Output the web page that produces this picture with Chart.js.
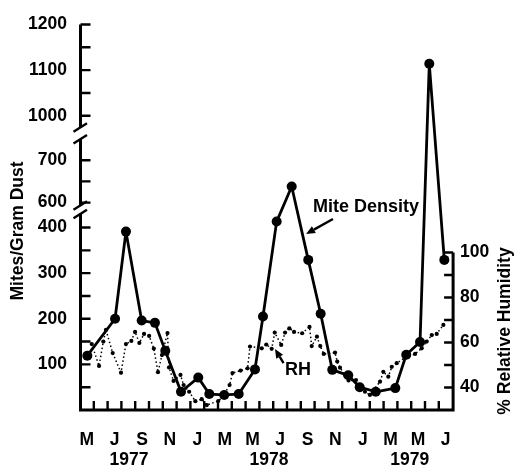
<!DOCTYPE html>
<html>
<head>
<meta charset="utf-8">
<script src="https://cdn.jsdelivr.net/npm/chart.js@4/dist/chart.umd.min.js"></script>
<style>
  html, body { margin: 0; padding: 0; background: #fff; }
  canvas { display: block; }
</style>
</head>
<body>
<canvas id="chart" width="515" height="466"></canvas>
<script>
// ---- data: months are counted from 1 May 1977 ----
const monthLetters = ['M', 'J', 'S', 'N', 'J', 'M', 'M', 'J', 'S', 'N', 'J', 'M', 'M', 'J'];
const yearNames = ['1977', '1978', '1979'];
const yearCentres = [3.55, 13.7, 23.9];

const densityTicks = [50, 100, 150, 200, 250, 300, 350, 400, 600, 650, 700, 1000, 1050, 1100, 1150, 1200];
const densityTickLabels = [100, 200, 300, 400, 600, 700, 1000, 1100, 1200];
const humidityTicks = [40, 50, 60, 70, 80, 90, 100];
const humidityTickLabels = [40, 60, 80, 100];

// mites per gram of dust
const miteMonths = [0.53, 2.54, 3.33, 4.47, 5.43, 6.18, 7.32, 8.57, 9.37, 10.45, 11.5, 12.68, 13.26,
  14.25, 15.34, 16.54, 17.44, 18.28, 19.44, 20.27, 21.43, 22.85, 23.64, 24.64, 25.31, 26.4];
const miteDensity = [119, 200, 391, 196, 191, 130, 40, 71, 35, 33, 35, 89, 205,
  413, 638, 329, 211, 88, 76, 50, 40, 48, 121, 149, 1114, 329];

// % relative humidity
const rhMonths = [0.85, 1.38, 1.69, 1.88, 2.37, 2.97, 3.33, 3.72, 3.99, 4.30, 4.64, 5.01, 5.35, 5.65,
  5.94, 6.34, 6.45, 6.78, 7.28, 7.51, 7.91, 8.36, 8.82, 9.19, 10.02, 10.36, 10.84, 11.05, 11.64,
  12.14, 12.32, 13.17, 13.5, 13.89, 14.11, 14.58, 14.86, 15.17, 15.51, 16.1, 16.63, 16.79, 17.17,
  17.41, 17.66, 18.48, 18.64, 18.84, 19.2, 19.46, 20.0, 20.15, 20.65, 21.01, 21.74, 21.98, 22.34,
  22.59, 22.95, 23.67, 24.28, 24.76, 25.12, 25.49, 25.85, 26.33];
const relHumidity = [59.3, 49.6, 60.4, 65.6, 55.3, 46.6, 59.3, 60.7, 64.7, 59.8, 63.8, 62.9, 57.3, 46.8,
  54.4, 64.2, 48.9, 42.9, 45.6, 41.1, 38.1, 33.9, 34.8, 32.2, 34.0, 35.9, 41.1, 46.4, 47.5,
  48.5, 58.2, 57.4, 59.1, 57.2, 64.4, 58.9, 64.4, 66.3, 64.7, 64.1, 66.9, 58.4, 62.6,
  58.4, 54.9, 55.5, 51.5, 48.8, 45.6, 43.1, 43.3, 39.9, 38.1, 36.7, 42.6, 47.0, 44.8,
  49.2, 50.8, 53.7, 54.9, 57.4, 60.4, 63.3, 63.8, 67.8];

// ---- broken density axis: three linear pieces separated by breaks ----
const densityPieces = [
  { lo: 0,   hi: 430,  at: 0,   k: 1 },
  { lo: 594, hi: 750,  at: 449, k: 0.93 },
  { lo: 975, hi: 1200, at: 620, k: 1 }
];
const pieceTop = p => p.at + (p.hi - p.lo) * p.k;
const PIECE_SPAN = pieceTop(densityPieces[densityPieces.length - 1]);

function densityToUnit(v) {
  for (const p of densityPieces) {
    if (v >= p.lo && v <= p.hi) return (p.at + (v - p.lo) * p.k) / PIECE_SPAN;
  }
  for (let i = 0; i < densityPieces.length - 1; i++) {
    const a = densityPieces[i], b = densityPieces[i + 1];
    if (v > a.hi && v < b.lo) {
      const ya = pieceTop(a);
      return (ya + (v - a.hi) / (b.lo - a.hi) * (b.at - ya)) / PIECE_SPAN;
    }
  }
  return v < 0 ? v / PIECE_SPAN : 1 + (v - 1200) / PIECE_SPAN;
}
function unitToDensity(u) {
  const t = u * PIECE_SPAN;
  for (const p of densityPieces) {
    if (t >= p.at && t <= pieceTop(p)) return p.lo + (t - p.at) / p.k;
  }
  for (let i = 0; i < densityPieces.length - 1; i++) {
    const a = densityPieces[i], b = densityPieces[i + 1], ya = pieceTop(a);
    if (t > ya && t < b.at) return a.hi + (t - ya) / (b.at - ya) * (b.lo - a.hi);
  }
  return t < 0 ? t : 1200 + (t - PIECE_SPAN);
}

class BrokenLinearScale extends Chart.LinearScale {
  static id = 'brokenLinear';
  static defaults = Chart.LinearScale.defaults;
  getPixelForValue(value) {
    return this.getPixelForDecimal(densityToUnit(value));
  }
  getValueForPixel(pixel) {
    return unitToDensity(this.getDecimalForPixel(pixel));
  }
}
Chart.register(BrokenLinearScale);

// ---- styling ----
const FAMILY = '"Liberation Sans", Arial, Helvetica, sans-serif';
const FONT_SIZE = 17.5;
const tickFont = { family: FAMILY, size: FONT_SIZE, weight: 'bold' };

const xTickList = [
  ...monthLetters.map((t, i) => ({ value: 0.5 + 2 * i, txt: t })),
  ...yearNames.map((t, i) => ({ value: yearCentres[i], txt: ['', t] }))
].sort((a, b) => a.value - b.value);

// text notes placed in (month, %RH) coordinates
const notes = {
  density: { text: 'Mite Density', at: [20.72, 120.2], tail: [18.33, 114.9], tip: [16.38, 108.2] },
  rh: { text: 'RH', at: [15.8, 47.8], tail: [14.75, 50.8], tip: [14.13, 57.1] }
};

function arrow(ctx, x0, y0, x1, y1) {
  const ang = Math.atan2(y1 - y0, x1 - x0), len = 9, half = 4;
  const bx = x1 - len * Math.cos(ang), by = y1 - len * Math.sin(ang);
  ctx.beginPath(); ctx.moveTo(x0, y0); ctx.lineTo(bx, by); ctx.stroke();
  ctx.beginPath();
  ctx.moveTo(x1, y1);
  ctx.lineTo(bx + half * Math.sin(ang), by - half * Math.cos(ang));
  ctx.lineTo(bx - half * Math.sin(ang), by + half * Math.cos(ang));
  ctx.closePath(); ctx.fill();
}

const framePlugin = {
  id: 'frame',
  beforeDatasetsDraw(chart) {
    const { ctx, chartArea: a, scales } = chart;
    const { x, y, y1 } = scales;
    const xl = a.left + 0.5, xr = a.right + 0.5, yb = a.bottom;
    ctx.save();
    ctx.strokeStyle = '#000'; ctx.fillStyle = '#000';
    ctx.lineCap = 'butt'; ctx.lineJoin = 'miter';

    // axis lines: lowest density piece, bottom, humidity axis
    ctx.lineWidth = 3;
    ctx.beginPath();
    ctx.moveTo(xl, y.getPixelForValue(densityPieces[0].hi));
    ctx.lineTo(xl, yb);
    ctx.lineTo(xr, yb);
    ctx.lineTo(xr, y1.getPixelForValue(100));
    ctx.stroke();
    for (let i = 1; i < densityPieces.length; i++) {
      const p = densityPieces[i];
      ctx.beginPath();
      ctx.moveTo(xl, y.getPixelForValue(p.lo));
      ctx.lineTo(xl, y.getPixelForValue(p.hi));
      ctx.stroke();
    }
    // break marks
    ctx.lineWidth = 2.4;
    const slash = yy => {
      ctx.beginPath(); ctx.moveTo(xl - 7, yy + 4.5); ctx.lineTo(xl + 6.5, yy - 4); ctx.stroke();
    };
    for (let i = 0; i < densityPieces.length - 1; i++) {
      slash(y.getPixelForValue(densityPieces[i].hi));
      slash(y.getPixelForValue(densityPieces[i + 1].lo));
    }

    // inward tick marks
    ctx.lineWidth = 2.4;
    ctx.beginPath();
    densityTicks.forEach(v => {
      const py = y.getPixelForValue(v);
      ctx.moveTo(xl, py); ctx.lineTo(xl + 10, py);
    });
    humidityTicks.forEach(v => {
      const py = y1.getPixelForValue(v);
      ctx.moveTo(xr, py); ctx.lineTo(xr - 9, py);
    });
    for (let m = 1; m < 27; m++) {
      const px = x.getPixelForValue(m);
      ctx.moveTo(px, yb); ctx.lineTo(px, yb - 9);
    }
    ctx.stroke();
    ctx.restore();
  },
  afterDraw(chart) {
    const { ctx, scales } = chart;
    const { x, y1 } = scales;
    const P = ([m, h]) => [x.getPixelForValue(m), y1.getPixelForValue(h)];
    ctx.save();
    ctx.fillStyle = '#000'; ctx.strokeStyle = '#000';
    ctx.font = `bold ${FONT_SIZE}px ${FAMILY}`;
    ctx.textAlign = 'center'; ctx.textBaseline = 'middle';

    // axis titles
    ctx.save(); ctx.translate(18.5, 231); ctx.rotate(-Math.PI / 2);
    ctx.fillText('Mites/Gram Dust', 0, 0); ctx.restore();
    ctx.save(); ctx.translate(505, 331); ctx.rotate(-Math.PI / 2);
    ctx.fillText('% Relative Humidity', 0, 0); ctx.restore();

    // series notes with arrows
    ctx.font = `bold 18px ${FAMILY}`;
    ctx.lineWidth = 2.4;
    Object.values(notes).forEach(n => {
      const [tx, ty] = P(n.at);
      ctx.fillText(n.text, tx, ty);
      const [ax, ay] = P(n.tail), [bx, by] = P(n.tip);
      arrow(ctx, ax, ay, bx, by);
    });
    ctx.restore();
  }
};

const hiddenGrid = { display: false, drawTicks: false, tickLength: 0 };

new Chart(document.getElementById('chart'), {
  type: 'line',
  data: {
    datasets: [
      {
        label: 'Mite Density',
        data: miteMonths.map((m, i) => ({ x: m, y: miteDensity[i] })),
        xAxisID: 'x', yAxisID: 'y',
        borderColor: '#000', borderWidth: 2.8, borderJoinStyle: 'round',
        pointRadius: 5, pointBackgroundColor: '#000', pointBorderWidth: 0,
        tension: 0, fill: false
      },
      {
        label: 'RH',
        data: rhMonths.map((m, i) => ({ x: m, y: relHumidity[i] })),
        xAxisID: 'x', yAxisID: 'y1',
        borderColor: '#000', borderWidth: 1.5, borderDash: [1.5, 2.5],
        pointRadius: 2.1, pointBackgroundColor: '#000', pointBorderWidth: 0,
        tension: 0, fill: false
      }
    ]
  },
  options: {
    responsive: false,
    animation: false,
    events: [],
    layout: { padding: { top: 24.5, left: 0, right: 0, bottom: 0 } },
    plugins: { legend: { display: false }, tooltip: { enabled: false } },
    scales: {
      x: {
        type: 'linear', position: 'bottom', min: 0, max: 27,
        grid: hiddenGrid, border: { display: false },
        afterBuildTicks: s => { s.ticks = xTickList.map(t => ({ value: t.value, txt: t.txt })); },
        ticks: {
          autoSkip: false, maxRotation: 0, minRotation: 0, padding: 20, color: '#000',
          font: { ...tickFont, lineHeight: '20px' },
          callback: (v, i, ticks) => ticks[i].txt
        },
        afterFit: s => { s.height = 56; }
      },
      y: {
        type: 'brokenLinear', position: 'left', min: 0, max: 1200,
        grid: hiddenGrid, border: { display: false },
        afterBuildTicks: s => { s.ticks = densityTicks.map(v => ({ value: v })); },
        ticks: {
          autoSkip: false, padding: 13, color: '#000', font: tickFont,
          callback: v => densityTickLabels.includes(v) ? String(v) : ''
        },
        afterFit: s => { s.width = 80; }
      },
      y1: {
        type: 'linear', position: 'right', min: 30, max: 201.3,
        grid: hiddenGrid, border: { display: false },
        afterBuildTicks: s => { s.ticks = humidityTicks.map(v => ({ value: v })); },
        ticks: {
          autoSkip: false, padding: 7.5, color: '#000', font: tickFont,
          callback: v => humidityTickLabels.includes(v) ? String(v) : ''
        },
        afterFit: s => { s.width = 62.4; }
      }
    }
  },
  plugins: [framePlugin]
});
</script>
</body>
</html>
